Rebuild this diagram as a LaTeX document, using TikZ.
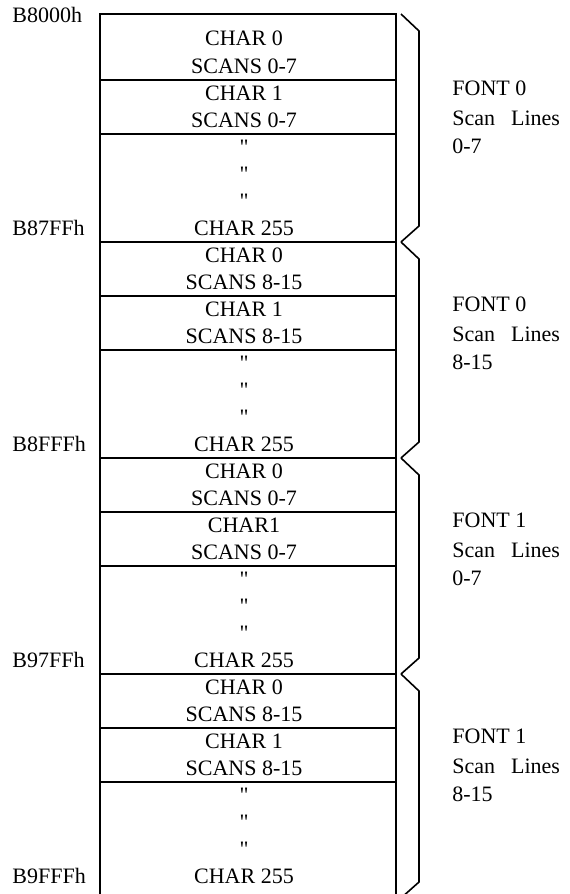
\documentclass[tikz,border=0pt]{standalone}
\usepackage{fontspec}
\setmainfont{Liberation Serif}
\newfontfamily\qfont{Liberation Serif}

\begin{document}
\begin{tikzpicture}[x=0.5pt,y=-0.5pt,line cap=butt,line join=miter]
  \tikzset{cell/.style={line width=0.7pt},
    brace/.style={line width=0.8pt},
    txt/.style={inner sep=0pt,anchor=base,font=\fontsize{11}{13}\selectfont},
    lbl/.style={txt,anchor=base west}}

  \path[use as bounding box] (0,0) rectangle (569,894);

  \draw[cell] (100,905) -- (100,14) -- (396,14) -- (396,905);
  \foreach \y in {242,458,674} {
    \draw[cell] (100,\y) -- (396,\y);
  }

  \node[lbl] (adr0) at (12,23) {B8000h};

  \foreach \i/\T/\scn/\chr/\fnt/\adr in {1/26/0-7/CHAR 1/FONT 0/B87FFh,2/242/8-15/CHAR 1/FONT 0/B8FFFh,3/458/0-7/CHAR1/FONT 1/B97FFh,4/674/8-15/CHAR 1/FONT 1/B9FFFh} {
    \draw[cell] (100,\T+54) -- (396,\T+54);
    \draw[cell] (100,\T+108) -- (396,\T+108);
    \node[txt] (cz\i) at (244,\T+20) {CHAR 0};
    \node[txt] (sz\i) at (244,\T+47) {SCANS \scn};
    \node[txt] (co\i) at (244,\T+74) {\chr};
    \node[txt] (so\i) at (244,\T+101) {SCANS \scn};
    \node[txt] (qa\i) at (244,\T+128) {\qfont"};
    \node[txt] (qb\i) at (244,\T+155) {\qfont"};
    \node[txt] (qc\i) at (244,\T+182) {\qfont"};
    \node[txt] (cl\i) at (244,\T+209) {CHAR 255};
    \node[lbl] (adr\i) at (12,\T+209) {\adr};
    \node[lbl] (fnt\i) at (452,\T+69) {\fnt};
    \node[lbl] (scl\i) at (452,\T+99) {Scan\hspace{8pt}Lines};
    \node[lbl] (rng\i) at (452,\T+127) {\scn};
  }

  \foreach \a/\b in {14/242,242/458,458/674,674/898} {
    \draw[brace] (401,\a) -- (419,\a+17) -- (419,\b-16) -- (401,\b);
  }
\end{tikzpicture}
\end{document}
